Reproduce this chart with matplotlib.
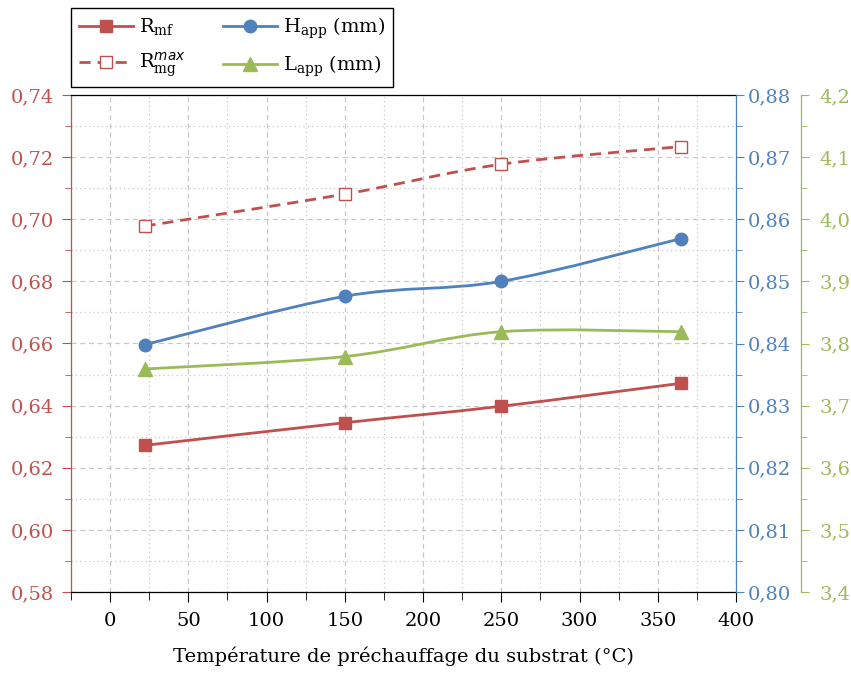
import matplotlib
matplotlib.use('Agg')
import matplotlib.pyplot as plt
from matplotlib.path import Path
from matplotlib.patches import PathPatch
from matplotlib.ticker import MultipleLocator, FuncFormatter
from matplotlib.lines import Line2D

plt.rcParams['font.family'] = ['DejaVu Serif']
plt.rcParams['mathtext.fontset'] = 'custom'
plt.rcParams['mathtext.rm'] = 'DejaVu Serif'
plt.rcParams['mathtext.it'] = 'DejaVu Sans:italic'

# ---- data ----
temperature = [22, 150, 250, 365]
r_mf = [0.6272, 0.6345, 0.6398, 0.6472]
r_mg_max = [0.6978, 0.7081, 0.7177, 0.7234]
h_app = [0.8398, 0.8476, 0.8500, 0.8569]
l_app = [3.759, 3.779, 3.819, 3.819]

left_ticks = [0.58, 0.60, 0.62, 0.64, 0.66, 0.68, 0.70, 0.72, 0.74]
blue_ticks = [0.80, 0.81, 0.82, 0.83, 0.84, 0.85, 0.86, 0.87, 0.88]
green_ticks = [3.4, 3.5, 3.6, 3.7, 3.8, 3.9, 4.0, 4.1, 4.2]
x_ticks = [0, 50, 100, 150, 200, 250, 300, 350, 400]

labels = [r'R$_{\mathrm{mf}}$', r'R$^{max}_{\mathrm{mg}}$',
          r'H$_{\mathrm{app}}$ (mm)', r'L$_{\mathrm{app}}$ (mm)']
xlabel = 'Température de préchauffage du substrat (°C)'

RED = '#C0504D'
BLUE = '#4F81BD'
GREEN = '#9BBB59'
FS = 14


def smooth_path(x, y):
    pts = list(zip(x, y))
    n = len(pts)
    verts = [pts[0]]
    codes = [Path.MOVETO]
    for i in range(n - 1):
        p0 = pts[i - 1] if i > 0 else pts[i]
        p1 = pts[i]
        p2 = pts[i + 1]
        p3 = pts[i + 2] if i + 2 < n else pts[i + 1]
        c1 = (p1[0] + (p2[0] - p0[0]) / 6, p1[1] + (p2[1] - p0[1]) / 6)
        c2 = (p2[0] - (p3[0] - p1[0]) / 6, p2[1] - (p3[1] - p1[1]) / 6)
        verts += [c1, c2, p2]
        codes += [Path.CURVE4] * 3
    return Path(verts, codes)


fig = plt.figure(figsize=(8.51, 6.77), dpi=100)
ax = fig.add_axes([71 / 851, 1 - 592 / 677, 665 / 851, 497 / 677])
ax2 = ax.twinx()
ax3 = ax.twinx()

ax.set_xlim(-25, 400)
ax.set_ylim(0.58, 0.74)
ax2.set_ylim(0.80, 0.88)
ax3.set_ylim(3.4, 4.2)

# grid
ax.set_axisbelow(True)
ax.xaxis.set_minor_locator(MultipleLocator(25))
ax.yaxis.set_minor_locator(MultipleLocator(0.01))
ax.set_yticks(left_ticks)
ax.set_xticks(x_ticks)
ax.grid(which='major', linestyle=(0, (4, 3)), color='#c8c8c8', lw=0.9)
ax.grid(which='minor', linestyle=(0, (1, 2.5)), color='#c8c8c8', lw=0.9)

ax2.set_yticks(blue_ticks)
ax2.yaxis.set_minor_locator(MultipleLocator(0.005))
ax3.set_yticks(green_ticks)
ax3.yaxis.set_minor_locator(MultipleLocator(0.05))

ax.yaxis.set_major_formatter(FuncFormatter(lambda v, p: f'{v:.2f}'.replace('.', ',')))
ax2.yaxis.set_major_formatter(FuncFormatter(lambda v, p: f'{v:.2f}'.replace('.', ',')))
ax3.yaxis.set_major_formatter(FuncFormatter(lambda v, p: f'{v:.1f}'.replace('.', ',')))

# spines
for s in ['left', 'top', 'bottom']:
    ax2.spines[s].set_visible(False)
    ax3.spines[s].set_visible(False)
ax.spines['right'].set_visible(False)
ax.spines['left'].set_color(RED)
ax.spines['top'].set_color('black')
ax.spines['bottom'].set_color('black')
ax2.spines['right'].set_color(BLUE)
ax3.spines['right'].set_color(GREEN)
ax3.spines['right'].set_position(('axes', 1.098))
for a in (ax, ax2, ax3):
    for s in a.spines.values():
        s.set_linewidth(0.9)

ax.tick_params(axis='y', which='major', direction='out', length=6.5, color=RED,
               labelcolor=RED, labelsize=FS, pad=6)
ax.tick_params(axis='y', which='minor', direction='out', length=4, color=RED)
ax.tick_params(axis='x', which='major', direction='out', length=7.2, color='black',
               labelsize=FS, pad=7)
ax.tick_params(axis='x', which='minor', direction='out', length=6, color='black')
ax2.tick_params(axis='y', which='major', direction='out', length=5.5, color=BLUE,
                labelcolor=BLUE, labelsize=FS, pad=3)
ax2.tick_params(axis='y', which='minor', direction='out', length=4, color=BLUE)
ax3.tick_params(axis='y', which='major', direction='out', length=6, color=GREEN,
                labelcolor=GREEN, labelsize=FS, pad=7)
ax3.tick_params(axis='y', which='minor', direction='out', length=4, color=GREEN)

ax.set_xlabel(xlabel, fontsize=FS, labelpad=12)

# curves
LW = 2.0
ax.add_patch(PathPatch(smooth_path(temperature, r_mf), fill=False, edgecolor=RED, lw=LW))
ax.add_patch(PathPatch(smooth_path(temperature, r_mg_max), fill=False, edgecolor=RED, lw=LW,
                       linestyle=(0, (4, 2.5))))
ax2.add_patch(PathPatch(smooth_path(temperature, h_app), fill=False, edgecolor=BLUE, lw=LW))
ax3.add_patch(PathPatch(smooth_path(temperature, l_app), fill=False, edgecolor=GREEN, lw=LW))

ax.plot(temperature, r_mf, ls='none', marker='s', ms=8, color=RED, zorder=5)
ax.plot(temperature, r_mg_max, ls='none', marker='s', ms=8, mfc='white', mec=RED,
        mew=1.0, zorder=5)
ax2.plot(temperature, h_app, ls='none', marker='o', ms=9, color=BLUE, zorder=5)
ax3.plot(temperature, l_app, ls='none', marker='^', ms=10, color=GREEN, zorder=5)

handles = [
    Line2D([], [], color=RED, lw=LW, marker='s', ms=8),
    Line2D([], [], color=RED, lw=LW, ls=(0, (4, 2.5)), marker='s', ms=8, mfc='white', mew=1.0),
    Line2D([], [], color=BLUE, lw=LW, marker='o', ms=9),
    Line2D([], [], color=GREEN, lw=LW, marker='^', ms=10),
]
leg = fig.legend(handles, labels, loc='lower left',
                 bbox_to_anchor=(71 / 851, 1 - 87 / 677),
                 ncol=2, frameon=True, fancybox=False, edgecolor='black',
                 framealpha=1, handlelength=2.8, columnspacing=1.9, borderaxespad=0,
                 fontsize=14, handletextpad=0.3, labelspacing=0.65, borderpad=0.4)
leg.get_frame().set_linewidth(1.0)

fig.savefig('out.png', dpi=100)
